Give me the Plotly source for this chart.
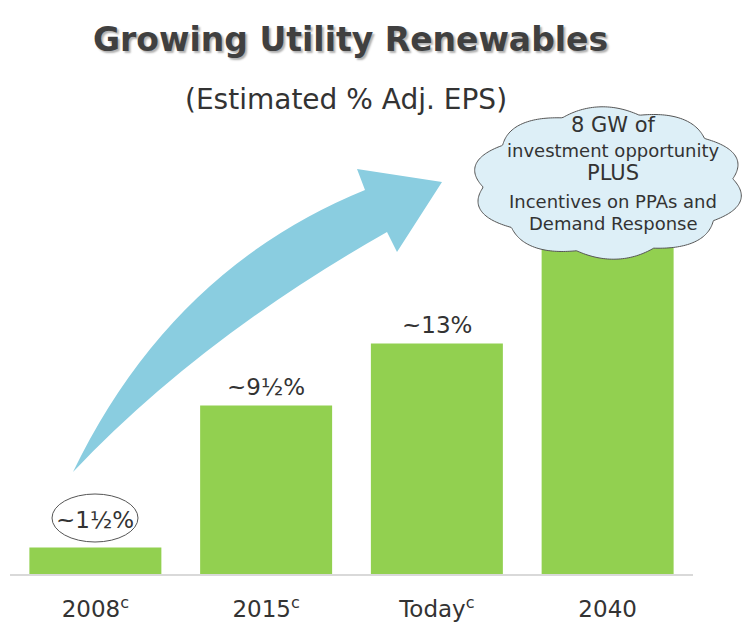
import numpy as np
import plotly.graph_objects as go

# ---- data ----
categories = ["2008<sup>c</sup>", "2015<sup>c</sup>", "Today<sup>c</sup>", "2040"]
eps_share = [1.5, 9.5, 13, 20]
bar_labels = ["~1½%", "~9½%", "~13%", ""]
title_text = "Growing Utility Renewables"
subtitle_text = "(Estimated % Adj. EPS)"
cloud_lines = ["8 GW of", "investment opportunity", "PLUS",
               "Incentives on PPAs and", "Demand Response"]

W, H = 753, 629
ML, MR, MT, MB = 10, 60, 60, 55
PW, PH = W - ML - MR, H - MT - MB
FONT = "DejaVu Sans"
TXT = "#333333"


def px(x, y):
    return (x - ML) / PW, (H - MB - y) / PH


def pt(x, y):
    a, b = px(x, y)
    return f"{a:.5f},{b:.5f}"


fig = go.Figure()
fig.add_trace(go.Bar(x=categories, y=eps_share, marker_color="#92D050",
                     marker_line_width=0, hoverinfo="skip"))

shapes = []
# curved arrow
arrow = (f"M {pt(73,472)} Q {pt(171,269)} {pt(365,190)} L {pt(357,169)} "
         f"L {pt(442,182)} L {pt(397,252)} L {pt(387,232)} "
         f"Q {pt(200,338)} {pt(73,472)} Z")
shapes.append(dict(type="path", xref="paper", yref="paper", path=arrow,
                   fillcolor="#8ACDE0", line=dict(width=0), layer="above"))

# cloud
cx, cy, rx, ry = 608, 183, 125, 70
th = np.linspace(0, 2 * np.pi, 400)
k = 1 + 0.09 * np.abs(np.sin(5 * th + 0.3))
xs = cx + rx * k * np.cos(th)
ys = cy + ry * k * np.sin(th)
cloud = "M " + " L ".join(pt(a, b) for a, b in zip(xs, ys)) + " Z"
shapes.append(dict(type="path", xref="paper", yref="paper", path=cloud,
                   fillcolor="#DDEFF7", line=dict(color="#555555", width=1),
                   layer="above"))

# ellipse around first label
x0, y0 = px(52, 542)
x1, y1 = px(138, 494)
shapes.append(dict(type="circle", xref="paper", yref="paper", x0=x0, y0=y0,
                   x1=x1, y1=y1, line=dict(color="#555555", width=1),
                   fillcolor="rgba(0,0,0,0)"))

ann = []
tx, ty = px(350, 40)
ann.append(dict(text=f"<b>{title_text}</b>", x=tx, y=ty, xref="paper", yref="paper",
                showarrow=False,
                font=dict(family=FONT, size=33, color="#404040",
                          shadow="2px 2px 2px #b0b0b0"),
                xanchor="center", yanchor="middle"))
stx, sty = px(346, 100)
ann.append(dict(text=subtitle_text, x=stx, y=sty, xref="paper", yref="paper",
                showarrow=False, font=dict(family=FONT, size=28, color=TXT),
                xanchor="center", yanchor="middle"))

# bar value labels
shifts = [12, 4, 4, 4]
for c, v, lab, s in zip(categories, eps_share, bar_labels, shifts):
    if lab:
        ann.append(dict(text=lab, x=c, y=v, xref="x", yref="y", showarrow=False,
                        yanchor="bottom", yshift=s,
                        font=dict(family=FONT, size=23, color=TXT)))

# cloud text
cloud_y = [125, 150, 173, 201, 223]
cloud_sz = [21, 18, 21, 18, 18]
for line, yy, sz in zip(cloud_lines, cloud_y, cloud_sz):
    ax_, ay_ = px(613, yy)
    ann.append(dict(text=line, x=ax_, y=ay_, xref="paper", yref="paper",
                    showarrow=False, xanchor="center", yanchor="middle",
                    font=dict(family=FONT, size=sz, color=TXT)))

fig.update_layout(
    width=W, height=H, margin=dict(l=ML, r=MR, t=MT, b=MB, autoexpand=False),
    paper_bgcolor="white", plot_bgcolor="white", showlegend=False,
    bargap=0.227, shapes=shapes, annotations=ann,
    xaxis=dict(showline=True, linecolor="#d9d9d9", linewidth=1.5, showgrid=False,
               ticks="", ticklabelstandoff=14, automargin=False,
               tickfont=dict(family=FONT, size=23, color=TXT), fixedrange=True),
    yaxis=dict(range=[0, 29], visible=False, fixedrange=True, automargin=False),
)
fig.write_html("out.html", config={"displayModeBar": False},
               post_script="document.body.style.margin='0';document.body.style.padding='0';")
